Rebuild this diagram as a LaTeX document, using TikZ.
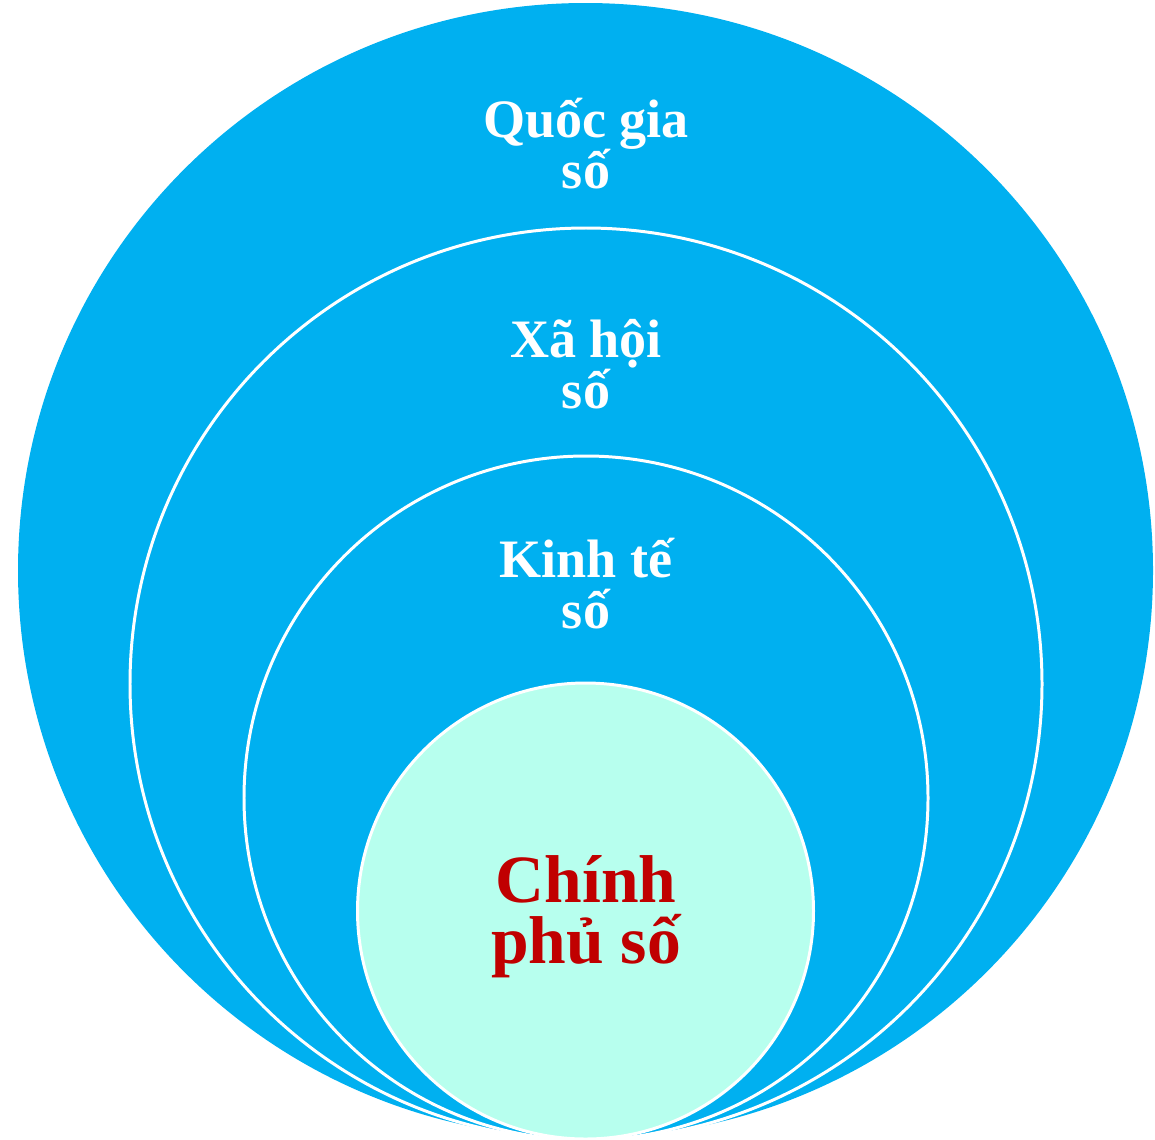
\documentclass[tikz,border=0pt]{standalone}
\usepackage{fontspec}
\setmainfont{Liberation Serif}
\definecolor{skyb}{HTML}{00B0F0}
\definecolor{aqua}{HTML}{B7FFEE}
\definecolor{darkred}{HTML}{C00000}
\begin{document}
\begin{tikzpicture}[x=0.02cm,y=-0.02cm,
  ring/.style={circle,fill=skyb,draw=white,line width=1.7pt,inner sep=0pt},
  wlabel/.style={anchor=base,text=white,font=\fontsize{30.8}{32}\selectfont\bfseries,inner sep=0pt},
  rlabel/.style={anchor=base,text=darkred,font=\fontsize{38.5}{40}\selectfont\bfseries,inner sep=0pt}]
\useasboundingbox (0,0) rectangle (1155,1139);
\node[ring,draw=none,minimum size=1135*0.02cm] (c1) at (585.5,570.5) {};
\node[ring,minimum size=912*0.02cm] (c2) at (586,684) {};
\node[ring,minimum size=684*0.02cm] (c3) at (586,798) {};
\node[ring,fill=aqua,minimum size=456*0.02cm] (c4) at (585.5,911) {};
\node[wlabel] (q1) at (586,137) {Quốc gia};
\node[wlabel] (q2) at (586,188) {số};
\node[wlabel] (x1) at (586,357) {Xã hội};
\node[wlabel] (x2) at (586,408) {số};
\node[wlabel] (k1) at (586,577) {Kinh tế};
\node[wlabel] (k2) at (586,628) {số};
\node[rlabel] (p1) at (586,902) {Chính};
\node[rlabel] (p2) at (586,963) {phủ số};
\end{tikzpicture}
\end{document}
